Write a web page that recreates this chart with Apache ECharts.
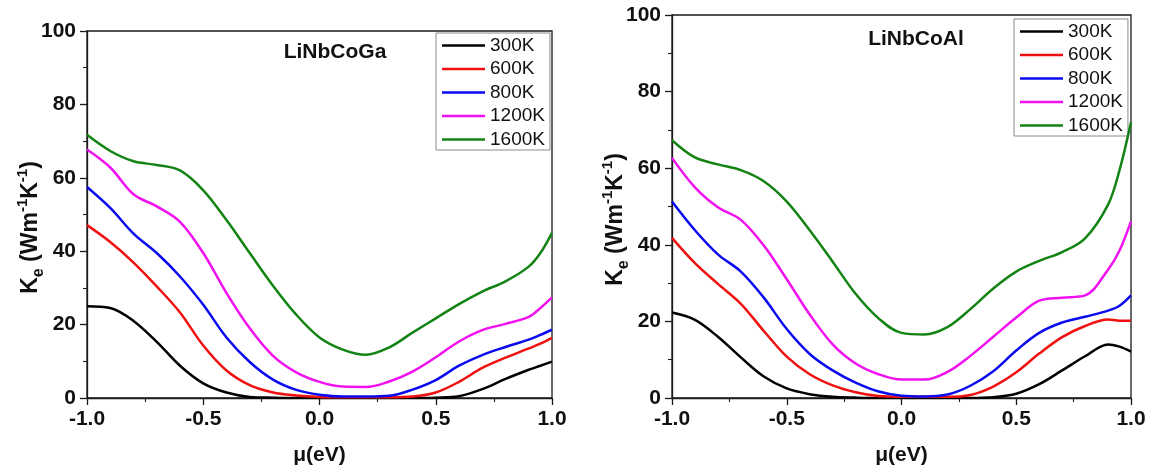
<!DOCTYPE html>
<html>
<head>
<meta charset="utf-8">
<script src="https://cdn.jsdelivr.net/npm/echarts@6/dist/echarts.min.js"></script>
<style>
  html, body { margin: 0; padding: 0; background: #fff; }
  #chart { width: 1150px; height: 471px; }
</style>
</head>
<body>
<div id="chart"></div>
<script>
// Chemical potential grid (eV)
const MU_EV = [-1.0, -0.9, -0.8, -0.7, -0.6, -0.5, -0.4, -0.3, -0.2, -0.1, 0.0,
               0.1, 0.2, 0.3, 0.4, 0.5, 0.6, 0.7, 0.8, 0.9, 0.95, 1.0];

const TEMPERATURES = ['300K', '600K', '800K', '1200K', '1600K'];
const COMPOUNDS = ['LiNbCoGa', 'LiNbCoAl'];

// Electronic thermal conductivity Ke (W m^-1 K^-1), LiNbCoGa
const GA_300K  = [25.0, 24.5, 21.0, 15.3, 8.8, 4.0, 1.5, 0.3, 0.1, 0.0, 0.0, 0.0, 0.0, 0.0, 0.0, 0.1, 0.5, 2.4, 5.2, 7.7, 8.8, 9.9];
const GA_600K  = [47.1, 42.5, 36.9, 30.4, 23.3, 14.3, 7.5, 3.5, 1.5, 0.7, 0.3, 0.2, 0.2, 0.2, 0.4, 1.5, 4.4, 8.2, 11.0, 13.5, 14.8, 16.4];
const GA_800K  = [57.5, 51.8, 44.8, 39.5, 33.1, 25.4, 16.5, 9.8, 5.0, 2.2, 0.9, 0.4, 0.4, 0.6, 2.3, 4.9, 8.8, 11.7, 13.9, 15.9, 17.2, 18.6];
const GA_1200K = [67.7, 62.8, 55.5, 52.2, 48.0, 39.5, 28.6, 19.0, 11.5, 7.0, 4.4, 3.1, 3.0, 4.5, 7.2, 11.1, 15.4, 18.5, 20.2, 22.1, 24.5, 27.4];
const GA_1600K = [71.7, 67.3, 64.5, 63.5, 62.0, 56.6, 48.5, 39.5, 30.6, 22.7, 16.5, 13.2, 11.8, 13.8, 17.8, 21.7, 25.6, 29.0, 31.8, 35.8, 39.5, 45.0];

// Electronic thermal conductivity Ke (W m^-1 K^-1), LiNbCoAl
const AL_300K  = [22.3, 20.4, 16.0, 10.6, 5.6, 2.5, 1.0, 0.3, 0.1, 0.0, 0.0, 0.0, 0.0, 0.0, 0.2, 1.1, 3.6, 7.2, 10.9, 14.0, 13.4, 12.1];
const AL_600K  = [41.8, 35.2, 29.8, 24.6, 17.5, 10.8, 6.2, 3.3, 1.5, 0.5, 0.3, 0.3, 0.3, 0.8, 3.0, 6.7, 11.6, 15.9, 18.8, 20.5, 20.2, 20.2];
const AL_800K  = [51.3, 43.8, 37.5, 33.0, 26.2, 18.0, 11.5, 7.2, 4.0, 1.7, 0.6, 0.4, 0.9, 3.2, 7.0, 12.4, 17.0, 19.7, 21.2, 22.8, 24.1, 26.8];
const AL_1200K = [62.7, 55.0, 49.8, 46.5, 39.8, 31.0, 21.8, 14.0, 9.0, 6.2, 4.8, 4.8, 6.8, 11.0, 16.0, 21.0, 25.4, 26.2, 26.8, 33.5, 38.5, 46.1];
const AL_1600K = [67.3, 62.8, 61.0, 59.5, 56.6, 51.3, 43.8, 35.6, 27.2, 20.8, 17.0, 16.6, 18.5, 23.2, 28.6, 33.0, 35.8, 38.1, 41.7, 50.5, 59.5, 72.0];

const GA_SERIES = [GA_300K, GA_600K, GA_800K, GA_1200K, GA_1600K];
const AL_SERIES = [AL_300K, AL_600K, AL_800K, AL_1200K, AL_1600K];

const LINE_COLORS = ['#000000', '#f01010', '#0a0af0', '#f010f0', '#138413'];
const FONT = '"Liberation Sans", Arial, sans-serif';
const AXIS_COLOR = '#1a1a1a';
const TEXT_COLOR = '#111';

const panels = [
  { left: 87,  top: 31, width: 465, height: 374, titleX: 330, titleY: 37, legendX: 436,  legendY: 33 },
  { left: 672, top: 15, width: 459, height: 386, titleX: 911, titleY: 24, legendX: 1014, legendY: 19 }
];

function xAxisFor(i) {
  return {
    type: 'value', gridIndex: i, min: -1, max: 1, interval: 0.5,
    name: 'μ(eV)', nameLocation: 'middle', nameGap: 47, nameMoveOverlap: false,
    nameTextStyle: { fontSize: 21, fontWeight: 'bold', color: TEXT_COLOR, fontFamily: FONT },
    axisLine: { show: true, onZero: false, lineStyle: { color: AXIS_COLOR, width: 1.3 } },
    axisTick: { show: true, inside: false, length: 7, lineStyle: { color: AXIS_COLOR, width: 1.3 } },
    minorTick: { show: true, splitNumber: 2, length: 4, lineStyle: { color: AXIS_COLOR, width: 1.1 } },
    axisLabel: { fontSize: 21, fontWeight: 'bold', color: TEXT_COLOR, fontFamily: FONT, margin: 11,
                 formatter: v => v.toFixed(1) },
    splitLine: { show: false }
  };
}

function yAxisFor(i) {
  return {
    type: 'value', gridIndex: i, min: 0, max: 100, interval: 20,
    name: 'K{sub|e} (Wm{sup|-1}K{sup|-1})', nameLocation: 'middle', nameGap: 40, nameMoveOverlap: false,
    nameTextStyle: {
      fontSize: 23, fontWeight: 'bold', color: TEXT_COLOR, fontFamily: FONT, lineHeight: 32,
      padding: [0, 26, 0, 0],
      rich: {
        sub: { fontSize: 16, fontWeight: 'bold', color: TEXT_COLOR, fontFamily: FONT, lineHeight: 16, verticalAlign: 'bottom' },
        sup: { fontSize: 15, fontWeight: 'bold', color: TEXT_COLOR, fontFamily: FONT, lineHeight: 15, verticalAlign: 'top' }
      }
    },
    axisLine: { show: true, onZero: false, lineStyle: { color: AXIS_COLOR, width: 1.3 } },
    axisTick: { show: true, inside: false, length: 7, lineStyle: { color: AXIS_COLOR, width: 1.3 } },
    minorTick: { show: true, splitNumber: 2, length: 4, lineStyle: { color: AXIS_COLOR, width: 1.1 } },
    axisLabel: { fontSize: 21, fontWeight: 'bold', color: TEXT_COLOR, fontFamily: FONT, margin: 11 },
    splitLine: { show: false }
  };
}

function seriesFor(i, list) {
  return list.map((vals, k) => ({
    name: TEMPERATURES[k], type: 'line', xAxisIndex: i, yAxisIndex: i,
    data: MU_EV.map((m, j) => [m, vals[j]]),
    smooth: 0.35, showSymbol: false, symbol: 'none', clip: true,
    lineStyle: { color: LINE_COLORS[k], width: 2.5 },
    itemStyle: { color: LINE_COLORS[k] },
    z: 2 + k
  }));
}

const option = {
  backgroundColor: '#fff',
  animation: false,
  grid: panels.map(p => ({
    left: p.left, top: p.top, width: p.width, height: p.height,
    show: true, borderColor: AXIS_COLOR, borderWidth: 1.3, backgroundColor: 'transparent'
  })),
  title: panels.map((p, i) => ({
    text: COMPOUNDS[i], left: p.titleX, top: p.titleY, textAlign: 'center',
    textStyle: { fontSize: 21, fontWeight: 'bold', color: TEXT_COLOR, fontFamily: FONT }
  })),
  legend: panels.map(p => ({
    data: TEMPERATURES, orient: 'vertical', left: p.legendX, top: p.legendY,
    icon: 'rect', itemWidth: 43, itemHeight: 2.5, itemGap: 4.5,
    padding: [3, 5, 1, 6], borderColor: '#8a8a8a', borderWidth: 1, backgroundColor: '#fff',
    textStyle: { fontSize: 19, color: TEXT_COLOR, fontFamily: FONT },
    selectedMode: false
  })),
  xAxis: [xAxisFor(0), xAxisFor(1)],
  yAxis: [yAxisFor(0), yAxisFor(1)],
  series: [...seriesFor(0, GA_SERIES), ...seriesFor(1, AL_SERIES)]
};

const chart = echarts.init(document.getElementById('chart'), null, { renderer: 'canvas' });
chart.setOption(option);
</script>
</body>
</html>
